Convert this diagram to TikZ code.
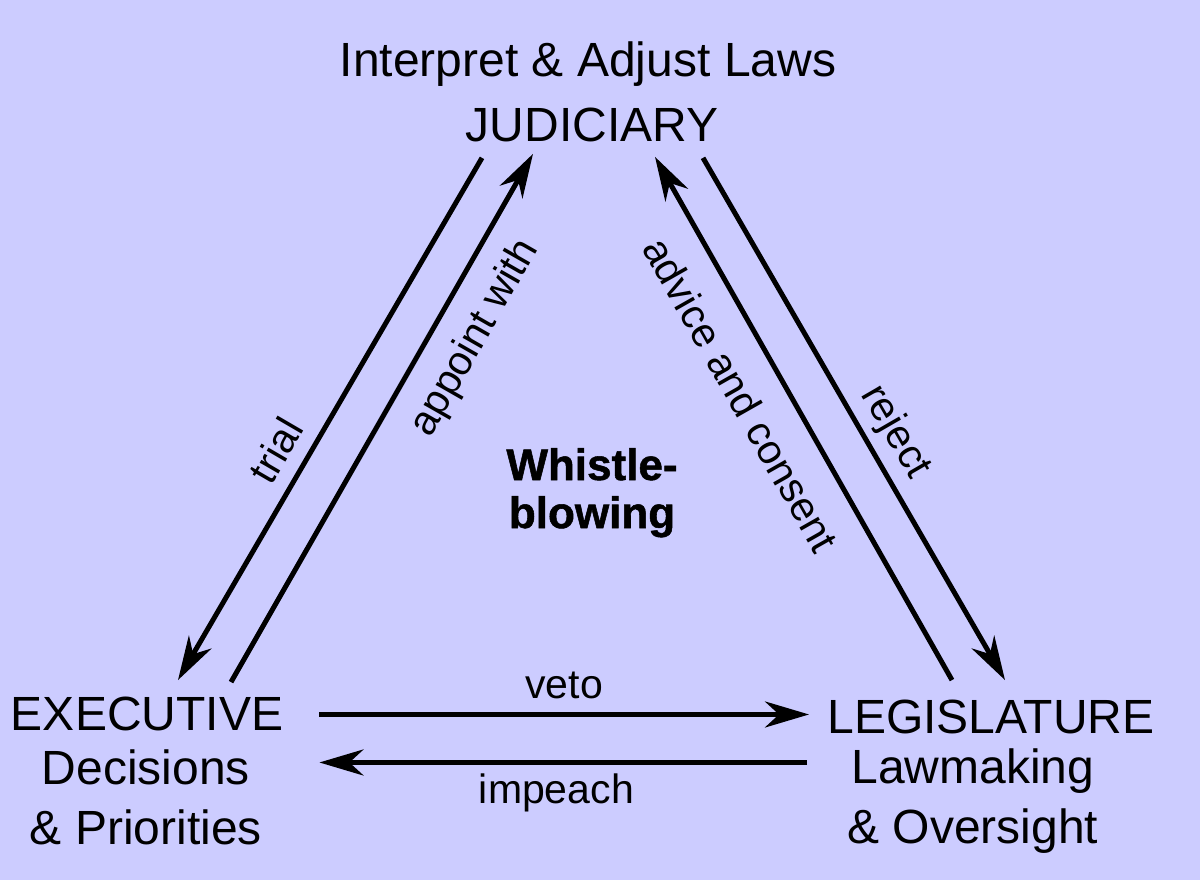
\documentclass[tikz,border=0pt]{standalone}
\usepackage{fontspec}
\setmainfont{Liberation Sans}
\newfontfamily\heavyfont[FakeBold=1.2]{Liberation Sans Bold}
\usepackage{tikz}
\usetikzlibrary{arrows.meta,positioning,calc}
\definecolor{clPaper}{HTML}{CCCCFF}
\definecolor{clInk}{HTML}{000000}
\tikzset{
  branch/.style={inner sep=0pt, anchor=base, text=clInk, font=\fontsize{24}{29}\selectfont},
  branchnote/.style={branch, align=center, font=\fontsize{24}{30}\selectfont},
  flow/.style={-{Stealth[length=22pt,width=13pt,inset=7pt]}, line width=2.5pt, draw=clInk},
  flowlabel/.style={inner sep=0pt, text=clInk, font=\fontsize{20.5}{24}\selectfont},
}

\begin{document}
\begin{tikzpicture}[x=0.5pt, y=0.5pt]
  \fill[clPaper] (0,0) rectangle (1200,880);
  \useasboundingbox (0,0) rectangle (1200,880);

  % the three branches (multi-line nodes sit on their last baseline)
  \node[branch] (jud) at (592,738) {JUDICIARY};
  \node[branch] (judnote) at (588,803) {Interpret \& Adjust Laws};
  \node[branch] (exe) at (147,150) {EXECUTIVE};
  \node[branchnote] (exenote) at (146,36) {Decisions\\\& Priorities};
  \node[branch] (leg) at (991,147) {LEGISLATURE};
  \node[branchnote] (legnote) at (973,37) {Lawmaking\\\& Oversight};
  \node[branchnote, font=\fontsize{22}{24}\heavyfont] (whistle) at (592,352) {Whistle-\\blowing};

  % judiciary <-> executive
  \draw[flow] ($(jud.south)+(-110,-15)$) -- node[flowlabel, sloped, above=7pt, pos=0.59] (trial) {trial} ($(exe.north)+(31,16)$);
  \draw[flow] ($(exe.north)+(84,14)$) -- node[flowlabel, sloped, below=10pt, pos=0.69] (appoint) {appoint with} ($(jud.south)+(-59,-11)$);
  % judiciary <-> legislature
  \draw[flow] ($(leg.north)+(-39,19)$) -- node[flowlabel, sloped, below=12.5pt, pos=0.586] (consent) {advice and consent} ($(jud.south)+(63,-14)$);
  \draw[flow] ($(jud.south)+(111,-15)$) -- node[flowlabel, sloped, above=3.7pt, pos=0.553] (reject) {reject} ($(leg.north)+(14,19)$);
  % executive <-> legislature
  \draw[flow] ($(exe.east)+(36,-1)$) -- node[flowlabel, above=6.75pt] (veto) {veto} ($(leg.west)+(-18,2)$);
  \draw[flow] ($(leg.west)+(-20,-46)$) -- node[flowlabel, below=4.35pt, pos=0.514] (impeach) {impeach} ($(exe.east)+(36,-49)$);
\end{tikzpicture}
\end{document}
